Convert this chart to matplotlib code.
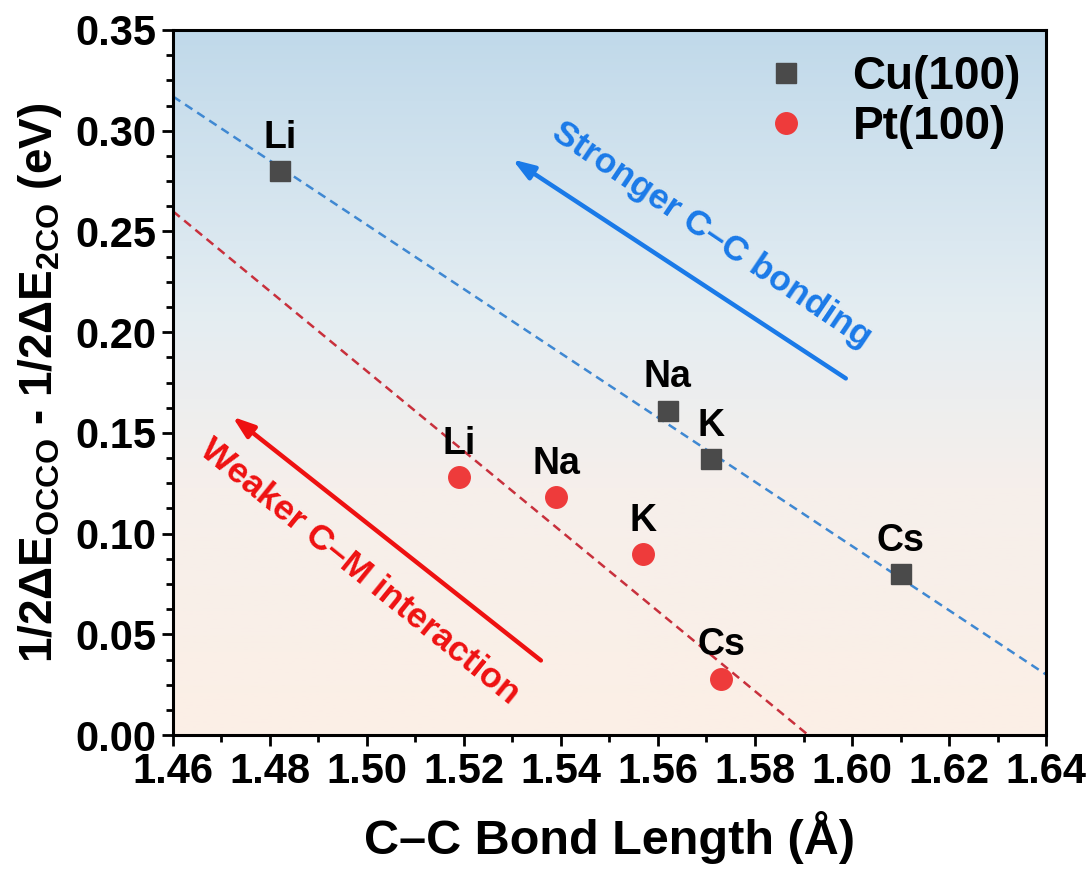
import numpy as np
import matplotlib
matplotlib.use("Agg")
import matplotlib.pyplot as plt
from matplotlib.colors import LinearSegmentedColormap
from matplotlib.ticker import MultipleLocator, FormatStrFormatter

plt.rcParams['font.family'] = ['Liberation Sans', 'DejaVu Sans']
plt.rcParams['font.weight'] = 'bold'
plt.rcParams['mathtext.fontset'] = 'custom'
plt.rcParams['mathtext.rm'] = 'Liberation Sans:bold'
plt.rcParams['mathtext.bf'] = 'Liberation Sans:bold'
plt.rcParams['mathtext.it'] = 'Liberation Sans:bold'

# C-C bond length (Å) and energy difference (eV) per alkali cation
cations = ["Li", "Na", "K", "Cs"]
cu_bond = [1.482, 1.562, 1.571, 1.610]
cu_energy = [0.280, 0.161, 0.137, 0.080]
pt_bond = [1.519, 1.539, 1.557, 1.573]
pt_energy = [0.128, 0.118, 0.090, 0.028]

# Linear trend lines (slope, intercept at 1.46 Å)
cu_trend = (-1.594, 0.317)
pt_trend = (-1.985, 0.260)

fig = plt.figure(figsize=(10.88, 8.72), dpi=100)
ax = fig.add_axes([0.159, 0.157, 0.8024, 0.8086])

xmin, xmax, ymin, ymax = 1.46, 1.64, 0.0, 0.35
ax.set_xlim(xmin, xmax)
ax.set_ylim(ymin, ymax)

# Vertical gradient background
cmap = LinearSegmentedColormap.from_list(
    "bg", [(0.0, "#fcefe6"), (0.35, "#f6efeb"), (0.6, "#e4edf2"), (1.0, "#c0d9ea")])
grad = np.linspace(0, 1, 256).reshape(-1, 1)
ax.imshow(grad, aspect="auto", cmap=cmap, origin="lower",
          extent=[xmin, xmax, ymin, ymax], zorder=0)

# Trend lines
xs = np.array([xmin, xmax])
ax.plot(xs, cu_trend[1] + cu_trend[0] * (xs - xmin), ls=(0, (3.5, 2.3)),
        color="#3f88d2", lw=1.8, zorder=2)
ax.plot(xs, pt_trend[1] + pt_trend[0] * (xs - xmin), ls=(0, (3.5, 2.3)),
        color="#c8303c", lw=1.8, zorder=2)

# Data points
ax.plot(cu_bond, cu_energy, ls="none", marker="s", ms=14.5,
        color="#4a4a4a", label="Cu(100)", zorder=3)
ax.plot(pt_bond, pt_energy, ls="none", marker="o", ms=15.5,
        color="#ee3b3b", label="Pt(100)", zorder=3)

for name, x, y in zip(cations, cu_bond, cu_energy):
    ax.annotate(name, (x, y), xytext=(0, 11), textcoords="offset points",
                ha="center", va="bottom", fontsize=27, fontweight="bold", zorder=4)
for name, x, y in zip(cations, pt_bond, pt_energy):
    ax.annotate(name, (x, y), xytext=(0, 11), textcoords="offset points",
                ha="center", va="bottom", fontsize=27, fontweight="bold", zorder=4)

# Trend arrows with captions
head = "-|>,head_length=1.3,head_width=0.45"
ax.annotate("", xy=(1.5295, 0.2865), xytext=(1.5992, 0.1763),
            arrowprops=dict(arrowstyle=head, color="#1a7ae8", lw=3.2), zorder=4)
ax.text(1.5710, 0.2485, "Stronger C–C bonding", color="#1a7ae8", fontsize=25.5,
        fontweight="bold", rotation=-34, rotation_mode="anchor",
        ha="center", va="center", zorder=4)

ax.annotate("", xy=(1.4718, 0.1589), xytext=(1.5363, 0.0362),
            arrowprops=dict(arrowstyle=head, color="#ee1111", lw=3.2), zorder=4)
ax.text(1.4985, 0.0810, "Weaker C–M interaction", color="#ee1111", fontsize=25.5,
        fontweight="bold", rotation=-39, rotation_mode="anchor",
        ha="center", va="center", zorder=4)

# Axes styling
for sp in ax.spines.values():
    sp.set_linewidth(2.2)
ax.xaxis.set_major_locator(MultipleLocator(0.02))
ax.xaxis.set_minor_locator(MultipleLocator(0.01))
ax.yaxis.set_major_locator(MultipleLocator(0.05))
ax.yaxis.set_minor_locator(MultipleLocator(0.0125))
ax.xaxis.set_major_formatter(FormatStrFormatter("%.2f"))
ax.yaxis.set_major_formatter(FormatStrFormatter("%.2f"))
ax.tick_params(which="major", direction="out", length=8, width=2, labelsize=30, pad=4)
ax.tick_params(which="minor", direction="out", length=5, width=2)
for lab in ax.get_xticklabels() + ax.get_yticklabels():
    lab.set_fontweight("bold")

ax.set_xlabel("C–C Bond Length (Å)", fontsize=35, fontweight="bold", labelpad=14)
ax.set_ylabel(r"1/2ΔE$_{\rm OCCO}$ - 1/2ΔE$_{\rm 2CO}$ (eV)", fontsize=33,
              fontweight="bold", labelpad=8)

leg = ax.legend(loc="upper right", bbox_to_anchor=(1.0, 1.0), frameon=False,
                fontsize=33, handlelength=1.0, handletextpad=0.95, labelspacing=0.12,
                borderaxespad=0.15)
for t in leg.get_texts():
    t.set_fontweight("bold")

fig.savefig("out.png", dpi=100)
